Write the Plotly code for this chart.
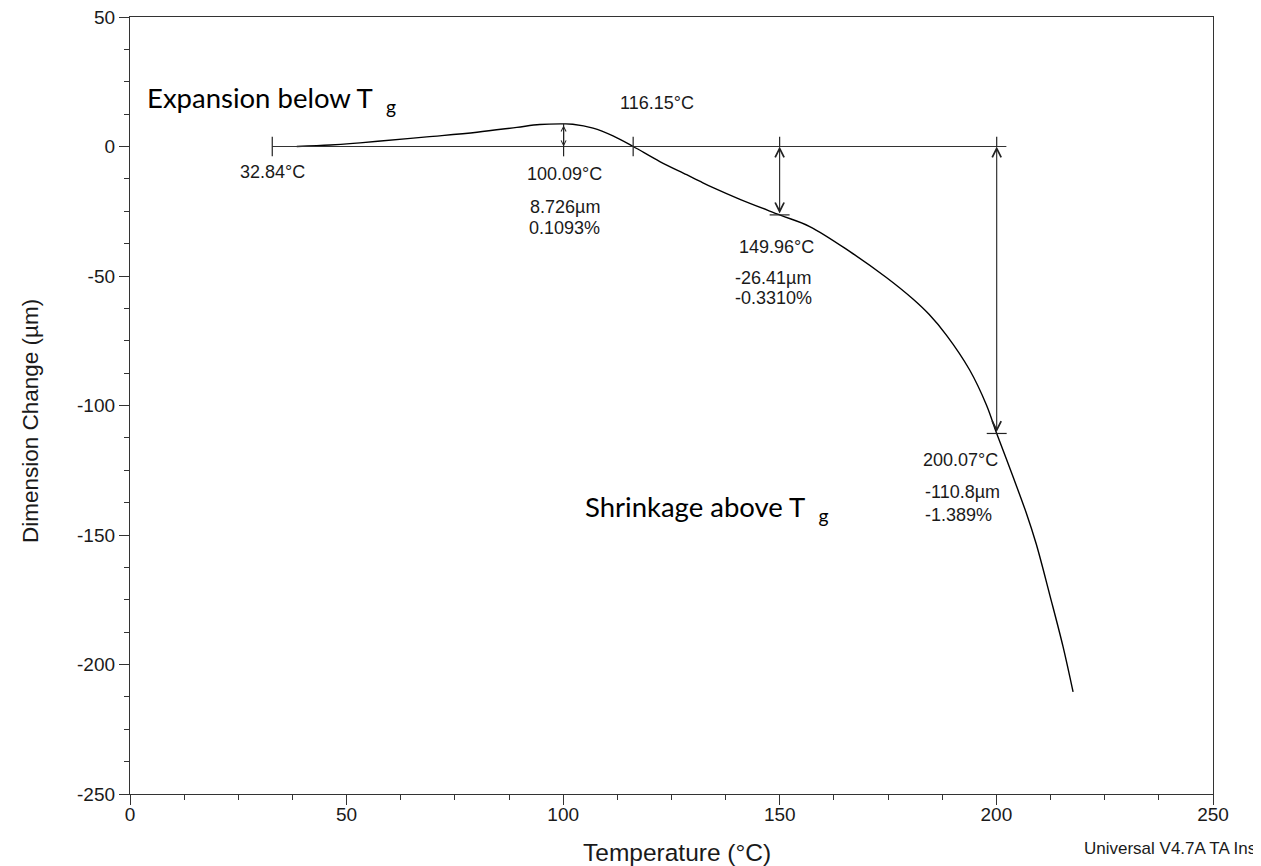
import plotly.graph_objects as go

# ---- data ----
temperature = [38.5, 46.2, 51.5, 57.2, 68.5, 80.1, 89.3, 94.6, 100.09, 102.2, 106.9,
               111.5, 116.15, 122.3, 128.5, 131.5, 134.6, 140.8, 149.96, 156.9, 166.2,
               174.6, 180.8, 184.5, 188.5, 193.8, 197.7, 200.07, 203.8, 206.9, 209.2,
               212.3, 215.4, 217.7]
dimension = [0.0, 0.6, 1.2, 2.0, 3.7, 5.5, 7.4, 8.5, 8.726, 8.6, 7.1,
             4.1, 0.0, -5.8, -10.9, -13.4, -15.9, -20.4, -26.41, -30.9, -40.6,
             -50.6, -59.0, -64.9, -72.9, -86.2, -99.8, -110.8, -127.3, -141.5, -153.5,
             -173.0, -193.2, -210.6]

baseline_start = 32.84
baseline_end = 202.3
crossing_T = 116.15
peak_T, peak_um, peak_pct = 100.09, 8.726, 0.1093
step_T = [149.96, 200.07]
step_um = [-26.41, -110.8]
step_pct = [-0.3310, -1.389]

x_ticks = [0, 50, 100, 150, 200, 250]
y_ticks = [50, 0, -50, -100, -150, -200, -250]

INK = "#1a1a1a"
TXT = dict(family="Liberation Sans, Arial, sans-serif", size=18, color=INK)
BIG = dict(family="Lato, 'Open Sans', sans-serif", size=27.5, color="black")

fig = go.Figure()

# main curve
fig.add_trace(go.Scatter(x=temperature, y=dimension, mode="lines",
                         line=dict(color="black", width=1.4, shape="spline", smoothing=1.0),
                         hoverinfo="skip", showlegend=False))

# baseline
fig.add_trace(go.Scatter(x=[baseline_start, baseline_end], y=[0, 0], mode="lines",
                         line=dict(color="#333333", width=1.2), hoverinfo="skip", showlegend=False))

# small tick marks
tick_h = 3.8
segx, segy = [], []
for t in [baseline_start, crossing_T]:
    segx += [t, t, None]
    segy += [tick_h, -tick_h, None]
segx += [peak_T, peak_T, None]
segy += [peak_um, -tick_h, None]
for t, v in zip(step_T, step_um):
    segx += [t, t, None, t - 2.3, t + 2.3, None]
    segy += [tick_h, 0, None, v, v, None]
fig.add_trace(go.Scatter(x=segx, y=segy, mode="lines",
                         line=dict(color="#222222", width=1.2), hoverinfo="skip", showlegend=False))

annotations = []
# double arrows
for t, v, s in [(peak_T, peak_um, 0.9)] + [(t, v, 1.6) for t, v in zip(step_T, step_um)]:
    annotations.append(dict(x=t, y=0, ax=t, ay=v, xref="x", yref="y", axref="x", ayref="y",
                            text="", showarrow=True, arrowhead=5, startarrowhead=5,
                            arrowside="end+start", arrowsize=s, startarrowsize=s,
                            arrowwidth=1.1, arrowcolor="#222222"))

def lab(text, x, y, xanchor="center"):
    annotations.append(dict(x=x, y=y, xref="x", yref="y", text=text, showarrow=False,
                            xanchor=xanchor, yanchor="middle", font=TXT))

lab(f"{baseline_start:.2f}°C", 32.8, -9.8)
lab(f"{peak_T:.2f}°C", 100.4, -10.5)
lab(f"{peak_um:.3f}µm", 100.4, -23.3)
lab(f"{peak_pct:.4f}%", 100.4, -31.4)
lab(f"{crossing_T:.2f}°C", 121.6, 16.9)
lab(f"{step_T[0]:.2f}°C", 140.1, -38.8, "left")
lab(f"{step_um[0]:.2f}µm", 139.2, -50.7, "left")
lab(f"{step_pct[0]:.4f}%", 139.2, -58.5, "left")
lab(f"{step_T[1]:.2f}°C", 182.5, -121.1, "left")
lab(f"{step_um[1]:.1f}µm", 183.0, -133.5, "left")
lab(f"{step_pct[1]:.3f}%", 183.0, -142.3, "left")

annotations.append(dict(x=3.5, y=18.0, xref="x", yref="y", text="Expansion below T&nbsp; <sub>g</sub>",
                        showarrow=False, xanchor="left", yanchor="middle", font=BIG))
annotations.append(dict(x=104.5, y=-139.6, xref="x", yref="y", text="Shrinkage above T&nbsp; <sub>g</sub>",
                        showarrow=False, xanchor="left", yanchor="middle", font=BIG))

# axis titles
annotations.append(dict(x=0.5, y=0, xref="paper", yref="paper", xshift=5, yshift=-58,
                        text="Temperature (°C)", showarrow=False, xanchor="center", yanchor="middle",
                        font=dict(family="Liberation Sans, Arial", size=24.5, color=INK)))
annotations.append(dict(x=0, y=-106, xref="paper", yref="y", xshift=-100, text="Dimension Change (µm)",
                        textangle=-90, showarrow=False, xanchor="center", yanchor="middle",
                        font=dict(family="Liberation Sans, Arial", size=22.5, color=INK)))
annotations.append(dict(x=1, y=0, xref="paper", yref="paper", xshift=-131, yshift=-54,
                        text="Universal V4.7A TA Instruments", showarrow=False,
                        xanchor="left", yanchor="middle",
                        font=dict(family="Liberation Sans, Arial", size=17, color=INK)))

axis_common = dict(showline=True, linecolor="#333333", linewidth=1.3, mirror=True,
                   ticks="outside", ticklen=10, tickwidth=1.2, tickcolor="#333333",
                   showgrid=False, zeroline=False, ticklabeloverflow="allow", automargin=False,
                   tickfont=dict(family="Liberation Sans, Arial", size=19, color=INK),
                   minor=dict(ticks="outside", ticklen=5, tickwidth=1.2, tickcolor="#333333",
                              dtick=12.5, showgrid=False))

fig.update_layout(
    width=1261, height=866,
    margin=dict(l=122, r=56, t=9, b=80),
    paper_bgcolor="white", plot_bgcolor="white",
    xaxis=dict(range=[0, 250], tickvals=x_ticks, ticktext=[str(v) for v in x_ticks],
               ticklabelstandoff=-7, **axis_common),
    yaxis=dict(range=[-250, 50], tickvals=y_ticks, ticktext=[str(v) for v in y_ticks], **axis_common),
    annotations=annotations,
)

fig.write_html("out.html")
